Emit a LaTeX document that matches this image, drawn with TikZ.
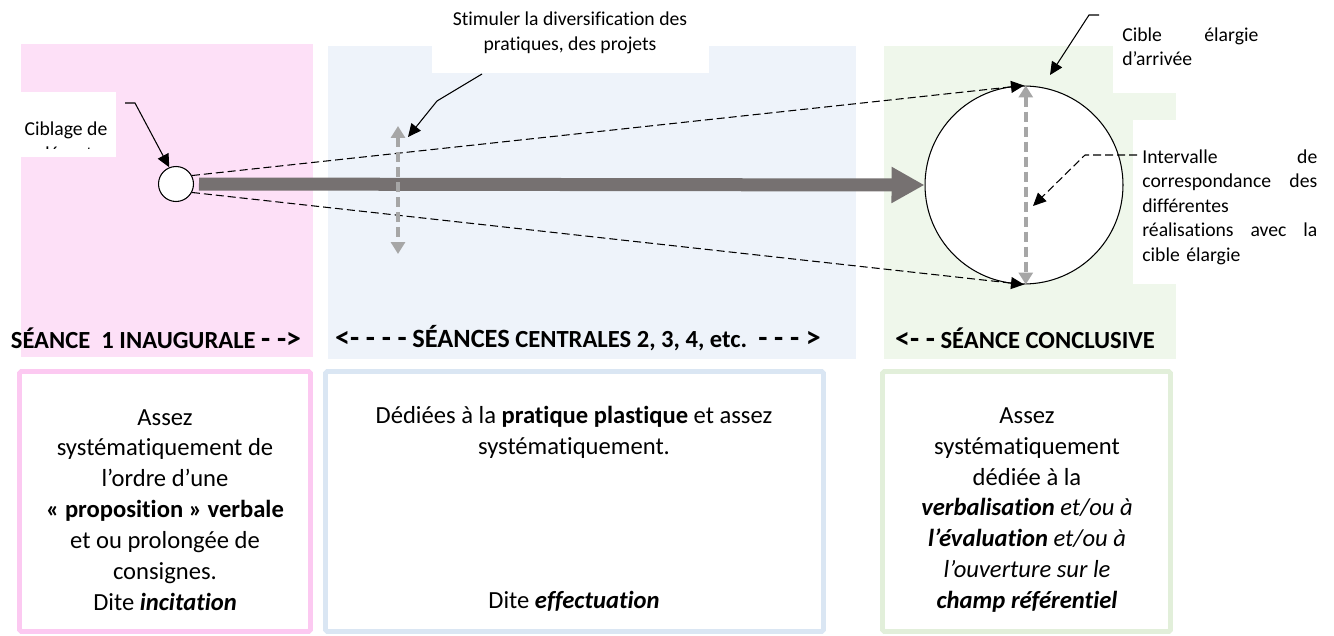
\documentclass[tikz,border=0pt]{standalone}
\usepackage{fontspec}
\setmainfont{Carlito}[Ligatures={NoCommon}]
\usetikzlibrary{arrows.meta}

\definecolor{rosefond}{HTML}{FDE0F7}
\definecolor{rosebord}{HTML}{FCC9F1}
\definecolor{bleufond}{HTML}{EEF3FA}
\definecolor{bleubord}{HTML}{DAE6F3}
\definecolor{vertfond}{HTML}{EFF7EB}
\definecolor{vertbord}{HTML}{E2EFDA}
\definecolor{grisfonce}{HTML}{767171}
\definecolor{grisclair}{HTML}{A6A6A6}

\tikzset{
  leader/.style={black, line width=0.6pt, -{Triangle[length=0.26cm, width=0.24cm]}},
  pointille/.style={leader, dash pattern=on 0.16cm off 0.08cm},
  amplitude/.style={grisclair, line width=2.3pt, dash pattern=on 0.2cm off 0.1cm,
    {Triangle[length=0.24cm, width=0.28cm]}-{Triangle[length=0.24cm, width=0.28cm]}},
  etiquette/.style={font=\fontsize{11.2}{14}\selectfont, inner sep=0pt},
  corps/.style={font=\fontsize{14}{17.6}\selectfont, align=center, inner sep=0pt},
  entete/.style={font=\bfseries\fontsize{14}{16}\selectfont, inner sep=0pt},
  cadre/.style={line width=2.8pt, fill=white, rounded corners=1pt}
}
\newcommand{\fleche}[1]{{\fontsize{17}{19}\selectfont #1}}

\begin{document}
\begin{tikzpicture}[x=0.02cm, y=-0.02cm]
    \useasboundingbox (0,0) rectangle (1334,635);

    % fonds des trois temps
    \fill[rosefond] (21,44) rectangle (313,357);
    \fill[bleufond] (328,46) rectangle (856,359);
    \fill[vertfond] (884,46) rectangle (1176,359);

    % zones de texte blanches
    \fill[white] (21,92) rectangle (116,157);
    \fill[white] (432,4) rectangle (709,73);
    \fill[white] (1113,0) rectangle (1270,93);
    \fill[white] (1133,120) rectangle (1334,284);

    \begin{scope}
        \clip (21,92) rectangle (116,148);
        \node[etiquette, align=center] (ciblage) at (66,143) {Ciblage de\\départ};
    \end{scope}
    \node[etiquette, align=center] (stimuler) at (570,33) {Stimuler la diversification des\\pratiques, des projets};
    \node[etiquette, align=left, text width=2.72cm, anchor=north west] (arrivee) at (1122,27) {Cible\hfill élargie\\d’arrivée};
    \node[etiquette, align=left, text width=3.5cm, anchor=north west] (intervalle) at (1142,149) {Intervalle\hfill de\\correspondance\hfill des\\différentes\\réalisations\hfill avec\hfill la\\cible élargie};

    % cibles
    \node[circle, draw, fill=white, line width=0.6pt, minimum size=0.7cm, inner sep=0pt] (depart) at (176,184) {};
    \node[circle, draw, fill=white, line width=0.6pt, minimum size=3.96cm, inner sep=0pt] (cible) at (1024,185) {};

    \draw[grisfonce, line width=7.4pt, -{Triangle[length=0.66cm, width=0.68cm]}] ([xshift=0.46cm]depart.center) -- (cible.west);
    \draw[pointille] (depart.28) -- (cible.north);
    \draw[pointille] (depart.-28) -- (cible.south);

    \coordinate (a1) at (398,126);
    \coordinate (a2) at (398,254);
    \draw[amplitude] (a1) -- (a2);
    \draw[amplitude] ([xshift=1pt]cible.north) -- ([xshift=1pt]cible.south);

    % renvois
    \coordinate (c1) at (125,103);
    \coordinate (s1) at (482,74);
    \coordinate (e1) at (1099,15);
    \coordinate (i1) at (1137,155);
    \draw[leader] (c1) -- (135,103) -- (depart.112);
    \draw[leader] (s1) -- (437,101) -- (408,137);
    \draw[leader] (e1) -- (1089,15) -- (1050,75);
    \draw[pointille] (i1) -- (1085,155) -- (1033,206);

    % en-tetes
    \node[entete] (t1) at (156,338) {SÉANCE\ \ 1 INAUGURALE \fleche{- ->}};
    \node[entete] (t2) at (578,338) {\fleche{<- - - -} {\fontsize{15}{17}\selectfont SÉANCES} CENTRALES 2, 3, 4, etc.\ \ \fleche{- - - >}};
    \node[entete] (t3) at (1025,338) {\fleche{<- -} SÉANCE CONCLUSIVE};

    % cadres du bas
    \draw[cadre, draw=rosebord] (19.5,371.5) rectangle (310.5,631.5);
    \draw[cadre, draw=bleubord] (325.5,371.5) rectangle (823.5,631.5);
    \draw[cadre, draw=vertbord] (882.5,371.5) rectangle (1170.5,631.5);

    \node[corps] (incitation) at (165,510) {Assez\\systématiquement de\\l’ordre d’une\\\textbf{«~proposition~» verbale}\\et ou prolongée de\\consignes.\\Dite \textbf{\textit{incitation}}};
    \node[corps] (pratique) at (574,432) {Dédiées à la \textbf{pratique plastique} et assez\\systématiquement.};
    \node[corps] (effectuation) at (574,601) {Dite \textbf{\textit{effectuation}}};
    \node[corps] (conclusion) at (1027,510) {Assez\\systématiquement\\dédiée à la\\\textbf{\textit{verbalisation}} \textit{et/ou à}\\\textbf{\textit{l’évaluation}} \textit{et/ou à}\\\textit{l’ouverture sur le}\\\textbf{\textit{champ référentiel}}};
\end{tikzpicture}
\end{document}
